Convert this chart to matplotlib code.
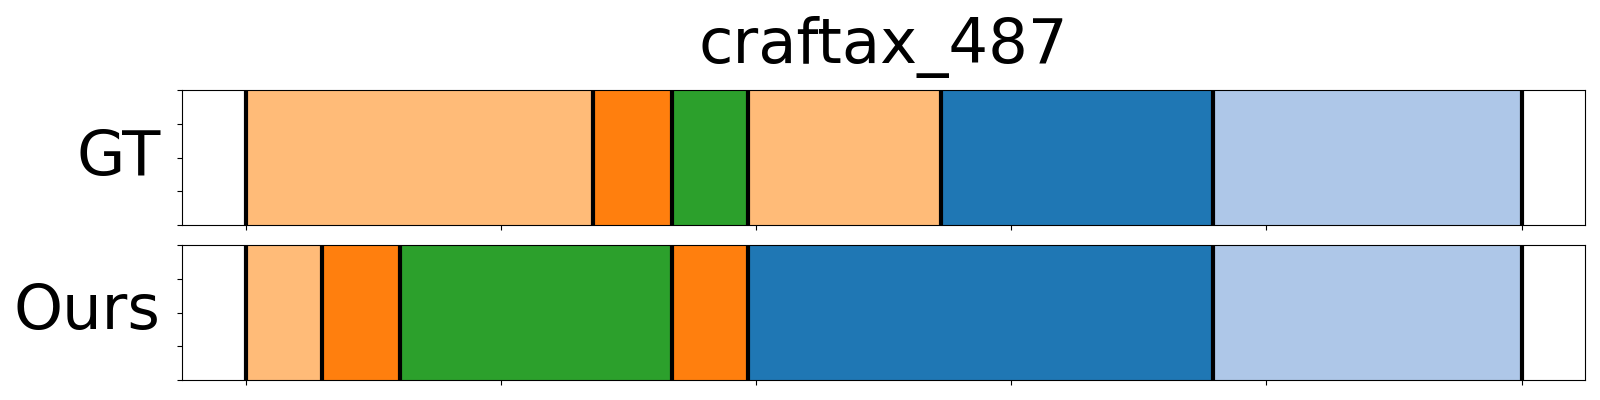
import matplotlib
matplotlib.use("Agg")
import matplotlib.pyplot as plt

title = "craftax_487"
row_labels = ["GT", "Ours"]
total_len = 500

gt_bounds = [0, 136, 167, 197, 272.5, 379, 500]
gt_colors = ["#ffbb78", "#ff7f0e", "#2ca02c", "#ffbb78", "#1f77b4", "#aec7e8"]

ours_bounds = [0, 30, 60.5, 167, 197, 379, 500]
ours_colors = ["#ffbb78", "#ff7f0e", "#2ca02c", "#ff7f0e", "#1f77b4", "#aec7e8"]

x_ticks = [0, 100, 200, 300, 400, 500]
y_ticks = [0, 0.25, 0.5, 0.75, 1.0]

fig = plt.figure(figsize=(16, 4), dpi=100)
ax1 = fig.add_axes([181.7 / 1600, 1 - 225 / 400, (1585.3 - 181.7) / 1600, 135 / 400])
ax2 = fig.add_axes([181.7 / 1600, 1 - 380 / 400, (1585.3 - 181.7) / 1600, 135 / 400], sharex=ax1)

for ax, bounds, colors, label in [(ax1, gt_bounds, gt_colors, row_labels[0]),
                                  (ax2, ours_bounds, ours_colors, row_labels[1])]:
    for i, c in enumerate(colors):
        ax.axvspan(bounds[i], bounds[i + 1], color=c, lw=0)
    for b in bounds:
        ax.axvline(b, color="black", lw=3)
    ax.set_xlim(-0.05 * total_len, 1.05 * total_len)
    ax.set_ylim(0, 1)
    ax.set_yticks(y_ticks)
    ax.set_yticklabels([])
    ax.set_xticks(x_ticks)
    ax.tick_params(labelbottom=False)
    ax.set_ylabel(label, rotation=0, fontsize=45, ha="right", va="center", labelpad=8)

fig.text((181.7 + 1585.3) / 2 / 1600, 1 - 63 / 400, title, fontsize=45,
         ha="center", va="baseline")

fig.savefig("out.png", dpi=100)
